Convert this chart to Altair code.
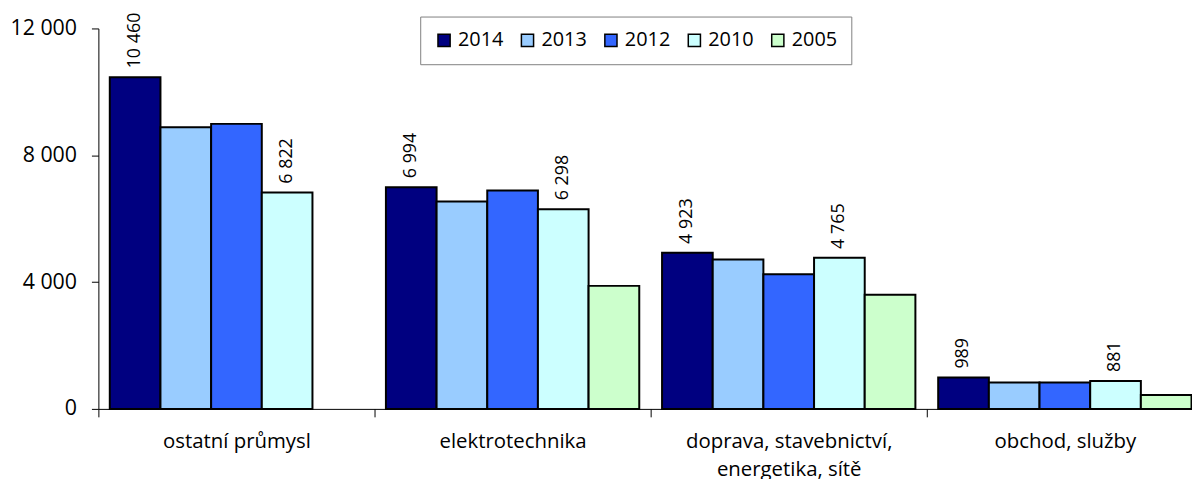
import altair as alt
import pandas as pd

categories = ["ostatní průmysl", "elektrotechnika",
              "doprava, stavebnictví, energetika, sítě", "obchod, služby"]
years = ["2014", "2013", "2012", "2010", "2005"]
colors = ["#000080", "#99CCFF", "#3366FF", "#CCFFFF", "#CCFFCC"]
v2014 = [10460, 6994, 4923, 989]
v2013 = [8880, 6540, 4710, 830]
v2012 = [8990, 6890, 4250, 830]
v2010 = [6822, 6298, 4765, 881]
v2005 = [None, 3880, 3600, 440]
labeled_years = ["2014", "2010"]
y_ticks = [0, 4000, 8000, 12000]

series = dict(zip(years, [v2014, v2013, v2012, v2010, v2005]))
rows = []
for y in years:
    for c, v in zip(categories, series[y]):
        if v is None:
            continue
        lab = f"{v:,}".replace(",", " ") if y in labeled_years else ""
        rows.append({"category": c, "year": y, "value": v, "label": lab})
df = pd.DataFrame(rows)

FONT = "Open Sans"

x_enc = alt.X(
    "category:N", sort=categories,
    scale=alt.Scale(domain=categories, range=[0, 1112], paddingInner=0, paddingOuter=0),
    axis=alt.Axis(
        title=None, labelAngle=0, tickBand="extent", tickSize=8, labelLimit=400,
        labelExpr="datum.label == 'doprava, stavebnictví, energetika, sítě' ? ['doprava, stavebnictví,', 'energetika, sítě'] : datum.label",
        labelFontSize=20.5, labelFont=FONT, labelColor="black", labelPadding=15,
        labelLineHeight=28, domainColor="black", tickColor="black", grid=False,
    ),
)
xoff_enc = alt.XOffset(
    "year:N", sort=years,
    scale=alt.Scale(domain=years, paddingInner=0, paddingOuter=0.225),
)
y_enc = alt.Y(
    "value:Q",
    scale=alt.Scale(domain=[0, 12000], nice=False),
    axis=alt.Axis(
        title=None, values=y_ticks, grid=False, tickSize=7, labelPadding=15,
        labelExpr="replace(format(datum.value, ','), ',', ' ')",
        labelFontSize=21.5, labelFont=FONT, labelColor="black",
        domainColor="black", tickColor="black",
    ),
)
color_enc = alt.Color(
    "year:N", sort=years,
    scale=alt.Scale(domain=years, range=colors),
    legend=alt.Legend(
        title=None, orient="none", legendX=324, legendY=-12, direction="horizontal",
        symbolType="square", symbolSize=150, symbolStrokeColor="black",
        symbolStrokeWidth=1.5, symbolOpacity=1,
        labelFontSize=20, labelFont=FONT, labelColor="black",
        strokeColor="#808080", fillColor="white", padding=14,
        columnPadding=14, labelOffset=4,
    ),
)

base = alt.Chart(df)
bars = base.mark_bar(stroke="black", strokeWidth=2, opacity=1).encode(
    x=x_enc, xOffset=xoff_enc, y=y_enc, color=color_enc
)
text = base.transform_filter("datum.label != ''").mark_text(
    angle=270, align="left", baseline="middle", dx=9,
    fontSize=18, font=FONT, color="black",
).encode(x=x_enc, xOffset=xoff_enc, y=y_enc, text="label:N")

chart = (bars + text).properties(
    width=1101, height=383,
    autosize=alt.AutoSizeParams(type="none"),
    padding={"left": 91, "top": 19, "right": 0, "bottom": 70},
).configure_view(stroke=None)

chart.save("out.html", embed_options={"renderer": "svg", "actions": False})
